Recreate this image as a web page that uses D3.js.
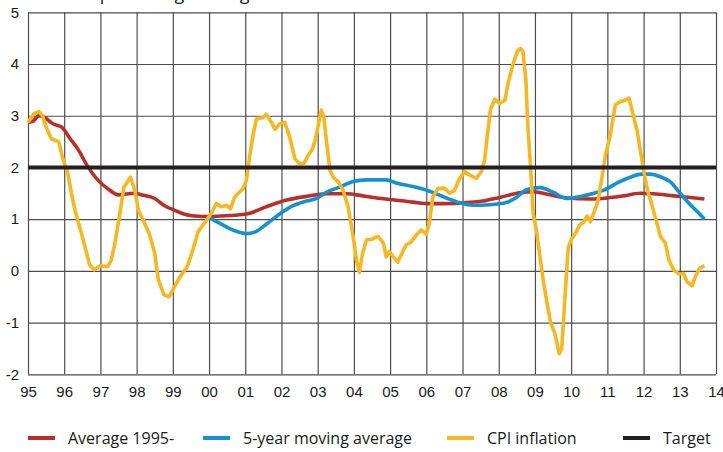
<!DOCTYPE html>
<html>
<head>
<meta charset="utf-8">
<script src="https://cdn.jsdelivr.net/npm/d3@7"></script>
<style>
  body { margin: 0; background: #fff; }
  svg { display: block; font-family: "Open Sans", sans-serif; }
  .grid line { stroke: #4d4d4d; stroke-width: 1.2; }
  .grid .domain { display: none; }
  .tick text { fill: #1a1a1a; font-size: 15px; }
  .legend text { fill: #1a1a1a; font-size: 16px; }
</style>
</head>
<body>
<script>
// tick labels
var yearTicks = d3.range(1995, 2015);
var yearLabels = ['95', '96', '97', '98', '99', '00', '01', '02', '03', '04',
  '05', '06', '07', '08', '09', '10', '11', '12', '13', '14'];
var valueTicks = [-2, -1, 0, 1, 2, 3, 4, 5];
var valueLabels = ['-2', '-1', '0', '1', '2', '3', '4', '5'];

// series, [year, per cent]
var average = [
  [1995.0, 2.87], [1995.15, 2.9], [1995.3, 3.0], [1995.45, 2.97], [1995.7, 2.84],
  [1995.93, 2.78], [1996.17, 2.55], [1996.4, 2.33], [1996.63, 2.04], [1996.9, 1.78],
  [1997.2, 1.59], [1997.5, 1.47], [1997.93, 1.5], [1998.2, 1.46], [1998.5, 1.4],
  [1998.75, 1.27], [1999.05, 1.17], [1999.3, 1.1], [1999.6, 1.06], [2000.0, 1.05],
  [2000.3, 1.06], [2001.03, 1.1], [2001.58, 1.24], [2002.14, 1.37], [2002.69, 1.44],
  [2003.24, 1.49], [2003.8, 1.49], [2004.17, 1.46], [2004.53, 1.42], [2005.0, 1.38],
  [2005.63, 1.33], [2006.09, 1.3], [2006.55, 1.3], [2007.1, 1.32], [2007.57, 1.35],
  [2008.03, 1.42], [2008.58, 1.51], [2008.95, 1.53], [2009.41, 1.47], [2009.88, 1.41],
  [2010.53, 1.39], [2011.0, 1.41], [2011.45, 1.45], [2011.91, 1.5], [2012.28, 1.49],
  [2012.83, 1.45], [2013.29, 1.42], [2013.68, 1.39]
];

var movingAverage = [
  [2000.0, 1.03], [2000.3, 0.92], [2000.66, 0.79], [2001.03, 0.72], [2001.26, 0.75],
  [2001.58, 0.9], [2001.95, 1.1], [2002.32, 1.26], [2002.69, 1.35], [2002.97, 1.4],
  [2003.24, 1.52], [2003.61, 1.62], [2003.98, 1.73], [2004.35, 1.76], [2004.9, 1.76],
  [2005.17, 1.7], [2005.63, 1.63], [2006.09, 1.54], [2006.55, 1.41], [2006.92, 1.32],
  [2007.29, 1.27], [2007.75, 1.28], [2008.21, 1.32], [2008.49, 1.42], [2008.77, 1.57],
  [2009.14, 1.61], [2009.5, 1.52], [2009.88, 1.4], [2010.26, 1.44], [2010.63, 1.5],
  [2010.9, 1.56], [2011.3, 1.71], [2011.63, 1.81], [2011.95, 1.87], [2012.18, 1.87],
  [2012.46, 1.82], [2012.74, 1.72], [2013.01, 1.5], [2013.29, 1.28], [2013.52, 1.12],
  [2013.68, 1.0]
];

var cpi = [
  [1995.0, 2.87], [1995.15, 3.03], [1995.3, 3.08], [1995.4, 3.0], [1995.5, 2.78],
  [1995.65, 2.55], [1995.85, 2.5], [1995.95, 2.2], [1996.1, 1.88], [1996.2, 1.5],
  [1996.3, 1.17], [1996.45, 0.79], [1996.6, 0.4], [1996.7, 0.12], [1996.83, 0.02],
  [1997.0, 0.1], [1997.2, 0.08], [1997.3, 0.21], [1997.4, 0.53], [1997.55, 1.17],
  [1997.65, 1.62], [1997.83, 1.81], [1997.95, 1.56], [1998.05, 1.17], [1998.2, 0.95],
  [1998.35, 0.72], [1998.5, 0.34], [1998.6, -0.17], [1998.75, -0.46], [1998.9, -0.5],
  [1999.05, -0.3], [1999.2, -0.11], [1999.4, 0.08], [1999.55, 0.4], [1999.7, 0.76],
  [1999.87, 0.92], [2000.06, 1.11], [2000.2, 1.3], [2000.34, 1.24], [2000.48, 1.27],
  [2000.59, 1.2], [2000.71, 1.43], [2000.85, 1.53], [2000.94, 1.59], [2001.03, 1.75],
  [2001.12, 2.2], [2001.22, 2.65], [2001.31, 2.94], [2001.49, 2.96], [2001.58, 3.03],
  [2001.7, 2.9], [2001.82, 2.74], [2001.95, 2.84], [2002.09, 2.87], [2002.23, 2.58],
  [2002.37, 2.17], [2002.5, 2.07], [2002.62, 2.08], [2002.71, 2.2], [2002.86, 2.36],
  [2002.95, 2.58], [2003.04, 2.9], [2003.1, 3.11], [2003.17, 2.97], [2003.24, 2.52],
  [2003.34, 1.94], [2003.43, 1.81], [2003.57, 1.72], [2003.7, 1.56], [2003.84, 1.24],
  [2003.98, 0.66], [2004.07, 0.21], [2004.15, -0.03], [2004.24, 0.34], [2004.35, 0.6],
  [2004.49, 0.61], [2004.67, 0.67], [2004.82, 0.53], [2004.89, 0.27], [2004.98, 0.37],
  [2005.09, 0.27], [2005.21, 0.17], [2005.3, 0.3], [2005.44, 0.5], [2005.58, 0.56],
  [2005.72, 0.69], [2005.86, 0.79], [2006.0, 0.71], [2006.09, 0.95], [2006.18, 1.43],
  [2006.32, 1.59], [2006.5, 1.6], [2006.64, 1.5], [2006.78, 1.56], [2006.92, 1.79],
  [2007.06, 1.92], [2007.2, 1.85], [2007.38, 1.79], [2007.52, 1.92], [2007.61, 2.14],
  [2007.68, 2.59], [2007.77, 3.11], [2007.89, 3.32], [2008.03, 3.24], [2008.17, 3.3],
  [2008.26, 3.63], [2008.4, 4.01], [2008.51, 4.24], [2008.6, 4.3], [2008.67, 4.24],
  [2008.75, 3.69], [2008.81, 2.72], [2008.88, 2.01], [2008.95, 1.11], [2009.04, 0.79],
  [2009.14, 0.27], [2009.23, -0.18], [2009.32, -0.57], [2009.43, -0.99], [2009.55, -1.21],
  [2009.67, -1.6], [2009.74, -1.5], [2009.83, -0.5], [2009.92, 0.45], [2010.0, 0.6],
  [2010.12, 0.73], [2010.24, 0.89], [2010.35, 0.94], [2010.44, 1.06], [2010.53, 0.95],
  [2010.64, 1.15], [2010.74, 1.35], [2010.85, 1.8], [2010.95, 2.25], [2011.08, 2.62],
  [2011.22, 3.21], [2011.35, 3.27], [2011.49, 3.3], [2011.6, 3.34], [2011.7, 3.05],
  [2011.82, 2.72], [2011.91, 2.34], [2012.0, 1.95], [2012.11, 1.55], [2012.2, 1.35],
  [2012.33, 1.02], [2012.47, 0.66], [2012.6, 0.54], [2012.7, 0.21], [2012.83, 0.02],
  [2012.97, -0.06], [2013.1, -0.05], [2013.2, -0.21], [2013.34, -0.29], [2013.43, -0.11],
  [2013.55, 0.05], [2013.68, 0.1]
];

var target = [[1995, 2], [2014, 2]];

var seriesNames = ['Average 1995-', '5-year moving average', 'CPI inflation', 'Target'];
var seriesColors = ['#b7312c', '#1790d0', '#f5b824', '#231f20'];

var chartW = 723, chartH = 452;
var plotLeft = 28, plotRight = 716, plotTop = 12.3, plotBottom = 374.3;

var svg = d3.select('body').append('svg')
  .attr('width', chartW)
  .attr('height', chartH);

var x = d3.scaleLinear().domain([1995, 2014]).range([plotLeft, plotRight]);
var y = d3.scaleLinear().domain([-2, 5]).range([plotBottom, plotTop]);

// unit label, mostly cut off by the top edge in the original
svg.append('text')
  .attr('x', 36)
  .attr('y', 0)
  .style('font-size', '18px')
  .style('fill', '#1a1a1a')
  .text('Annual percentage change');

// vertical grid + year labels
svg.append('g')
  .attr('class', 'grid')
  .attr('transform', 'translate(0,' + plotBottom + ')')
  .call(d3.axisBottom(x)
    .tickValues(yearTicks)
    .tickSize(-(plotBottom - plotTop))
    .tickPadding(12)
    .tickFormat(function(d, i) { return yearLabels[i]; }));

// horizontal grid + value labels
svg.append('g')
  .attr('class', 'grid')
  .attr('transform', 'translate(' + plotLeft + ',0)')
  .call(d3.axisLeft(y)
    .tickValues(valueTicks)
    .tickSize(-(plotRight - plotLeft))
    .tickPadding(9)
    .tickFormat(function(d, i) { return valueLabels[i]; }));

var line = d3.line()
  .x(function(d) { return x(d[0]); })
  .y(function(d) { return y(d[1]); });

var smooth = d3.line()
  .curve(d3.curveMonotoneX)
  .x(function(d) { return x(d[0]); })
  .y(function(d) { return y(d[1]); });

var drawn = [[average, smooth], [movingAverage, smooth], [cpi, line], [target, line]];

svg.selectAll('path.series')
  .data(drawn)
  .enter().append('path')
  .attr('class', 'series')
  .attr('d', function(d) { return d[1](d[0]); })
  .attr('fill', 'none')
  .attr('stroke', function(d, i) { return seriesColors[i]; })
  .attr('stroke-width', function(d, i) { return i === 3 ? 4 : 3.6; })
  .attr('stroke-linejoin', 'round');

// legend
var legendX = [28, 203, 447, 623];
var legend = svg.append('g').attr('class', 'legend')
  .selectAll('g')
  .data(seriesNames)
  .enter().append('g')
  .attr('transform', function(d, i) { return 'translate(' + legendX[i] + ',438)'; });

legend.append('line')
  .attr('x1', 0).attr('x2', 27)
  .attr('stroke', function(d, i) { return seriesColors[i]; })
  .attr('stroke-width', 4);

legend.append('text')
  .attr('x', 40)
  .attr('dy', '0.35em')
  .text(function(d) { return d; });
</script>
</body>
</html>
